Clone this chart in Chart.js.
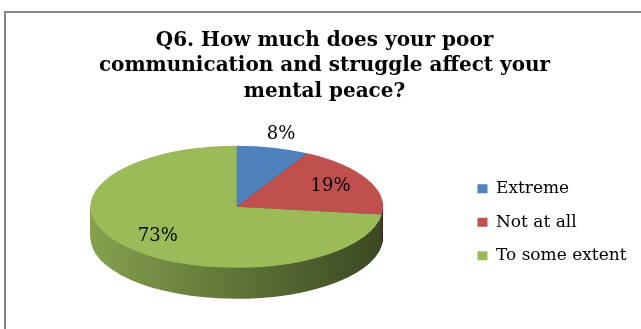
<!DOCTYPE html>
<html>
<head>
<meta charset="utf-8">
<script src="https://cdn.jsdelivr.net/npm/chart.js@4/dist/chart.umd.min.js"></script>
<style>
    html, body { margin: 0; padding: 0; background: #fff; }
    .frame {
        position: absolute; left: 4px; top: 11px;
        width: 800px; height: 500px;
        border: 2px solid #878787;
    }
    .wrap { position: absolute; left: 0; top: 0; width: 641px; height: 329px; }
</style>
</head>
<body>
<div class="frame"></div>
<div class="wrap"><canvas id="pieChart"></canvas></div>
<script>
// data
const categories = ["Extreme", "Not at all", "To some extent"];
const shares = [8, 19, 73];
const titleLines = [
    "Q6. How much does your poor",
    "communication and struggle affect your",
    "mental peace?"
];

const colors = ["#4F81BD", "#C0504D", "#9BBB59"];

// shape of the tilted pie, relative to the radius chart.js gives the arcs
const STRETCH_X = 1.37;
const STRETCH_Y = 0.572;
const DEPTH = 0.29;

function shade(hex, f) {
    const n = parseInt(hex.slice(1), 16);
    const r = Math.round(((n >> 16) & 255) * f);
    const g = Math.round(((n >> 8) & 255) * f);
    const b = Math.round((n & 255) * f);
    return `rgb(${r},${g},${b})`;
}

function geom(arc) {
    const R = arc.outerRadius;
    const depth = R * DEPTH;
    return {
        cx: arc.x,
        cy: arc.y - depth / 2,
        rx: R * STRETCH_X,
        ry: R * STRETCH_Y,
        depth: depth
    };
}

function toEllipse(ctx, g, arc) {
    ctx.translate(g.cx, g.cy);
    ctx.scale(g.rx / arc.outerRadius, g.ry / arc.outerRadius);
    ctx.translate(-arc.x, -arc.y);
}

const pie3d = {
    id: "pie3d",
    beforeDatasetsDraw(chart) {
        const ctx = chart.ctx;
        const arcs = chart.getDatasetMeta(0).data;
        if (!arcs.length) return;
        const g = geom(arcs[0]);
        const base = ctx.getTransform();

        // side wall: stack the slices downwards, darker with a left->right shade
        for (let k = Math.round(g.depth); k >= 1; k--) {
            arcs.forEach((arc, i) => {
                ctx.save();
                ctx.translate(0, k);
                toEllipse(ctx, g, arc);
                ctx.beginPath();
                ctx.moveTo(arc.x, arc.y);
                ctx.arc(arc.x, arc.y, arc.outerRadius, arc.startAngle, arc.endAngle);
                ctx.closePath();
                ctx.setTransform(base);
                const grad = ctx.createLinearGradient(g.cx - g.rx, 0, g.cx + g.rx, 0);
                grad.addColorStop(0, shade(colors[i], 0.86));
                grad.addColorStop(0.5, shade(colors[i], 0.62));
                grad.addColorStop(1, shade(colors[i], 0.38));
                ctx.fillStyle = grad;
                ctx.fill();
                ctx.restore();
            });
        }

        // top face: let chart.js draw its arcs squashed into the ellipse
        ctx.save();
        toEllipse(ctx, g, arcs[0]);
    },
    afterDatasetsDraw(chart) {
        const ctx = chart.ctx;
        ctx.restore();
        const arcs = chart.getDatasetMeta(0).data;
        if (!arcs.length) return;
        const g = geom(arcs[0]);
        const total = shares.reduce((a, b) => a + b, 0);

        ctx.save();
        ctx.font = "18px 'DejaVu Serif'";
        ctx.fillStyle = "#000";
        ctx.textAlign = "center";
        ctx.textBaseline = "middle";
        arcs.forEach((arc, i) => {
            const mid = (arc.startAngle + arc.endAngle) / 2;
            const pct = Math.round(shares[i] / total * 100);
            const f = pct < 10 ? 1.22 : 0.72;
            const x = g.cx + g.rx * f * Math.cos(mid);
            const y = g.cy + g.ry * f * Math.sin(mid);
            ctx.fillText(pct + "%", x, y);
        });
        ctx.restore();
    }
};

Chart.defaults.font.family = "'DejaVu Serif', serif";
Chart.defaults.color = "#000";

new Chart(document.getElementById("pieChart").getContext("2d"), {
    type: "pie",
    data: {
        labels: categories,
        datasets: [{
            data: shares,
            backgroundColor: colors,
            borderWidth: 0
        }]
    },
    options: {
        responsive: true,
        maintainAspectRatio: false,
        animation: false,
        layout: { padding: { left: 12.5, right: 4.5, top: 0, bottom: 0 } },
        plugins: {
            title: {
                display: true,
                text: titleLines,
                color: "#000",
                font: { size: 20, weight: "bold", lineHeight: 1.275 },
                padding: { top: 28, bottom: 11 }
            },
            legend: {
                position: "right",
                fullSize: false,
                labels: {
                    boxWidth: 10,
                    boxHeight: 9,
                    padding: 16.5,
                    color: "#000",
                    font: { size: 17 }
                }
            },
            tooltip: { enabled: false }
        }
    },
    plugins: [pie3d]
});
</script>
</body>
</html>
